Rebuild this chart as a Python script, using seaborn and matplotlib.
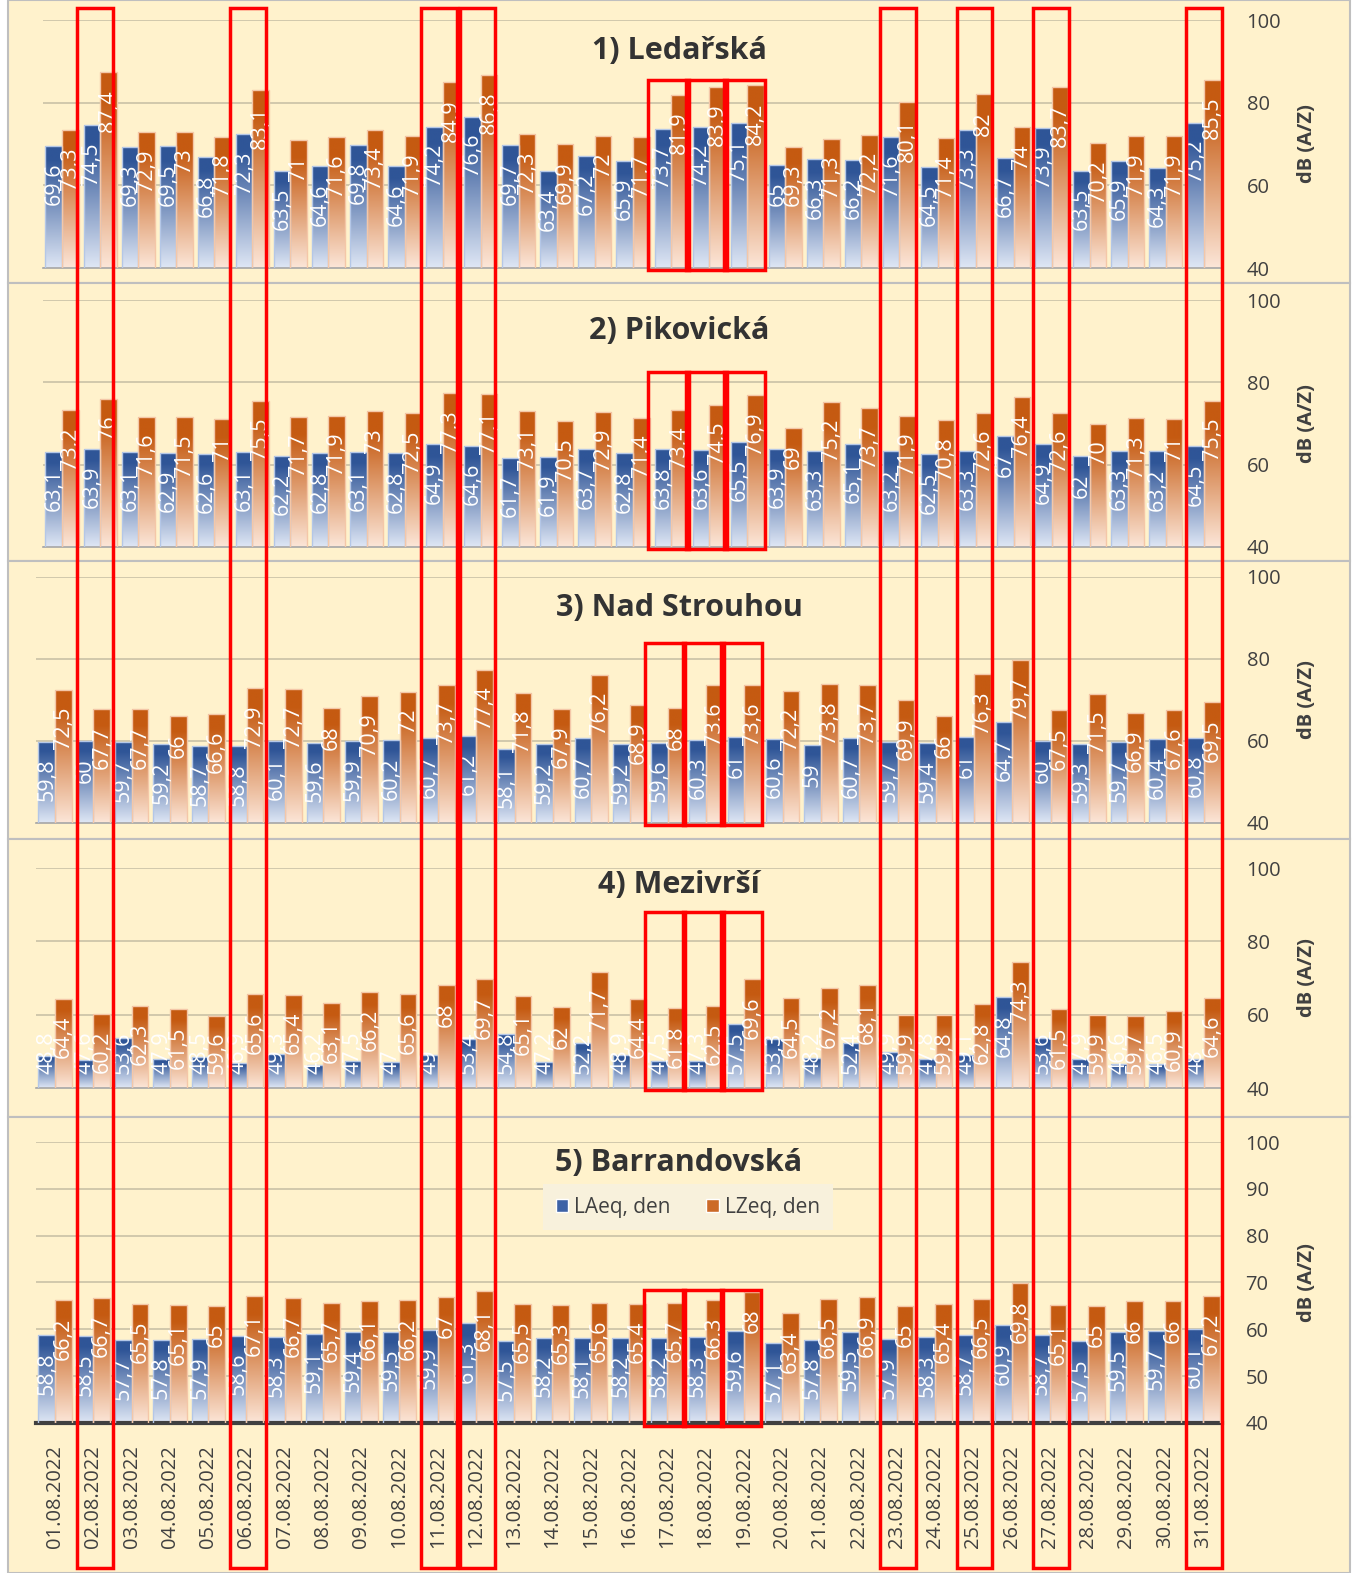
import numpy as np
import pandas as pd
import matplotlib
matplotlib.use("Agg")
import matplotlib.pyplot as plt
from matplotlib.colors import LinearSegmentedColormap
from matplotlib.patches import Rectangle, Patch
from matplotlib.transforms import offset_copy, blended_transform_factory
import seaborn as sns

# ---- data ----
dates = [f"{d:02d}.08.2022" for d in range(1, 32)]
series_names = ["LAeq, den", "LZeq, den"]

ledarska_laeq = [69.6, 74.5, 69.3, 69.5, 66.8, 72.3, 63.5, 64.6, 69.8, 64.6, 74.2, 76.6, 69.7, 63.4, 67.2, 65.9,
                 73.7, 74.2, 75.1, 65.0, 66.3, 66.2, 71.6, 64.5, 73.3, 66.7, 73.9, 63.5, 65.9, 64.3, 75.2]
ledarska_lzeq = [73.3, 87.4, 72.9, 73.0, 71.8, 83.1, 71.0, 71.6, 73.4, 71.9, 84.9, 86.8, 72.3, 69.9, 72.0, 71.7,
                 81.9, 83.9, 84.2, 69.3, 71.3, 72.2, 80.1, 71.4, 82.0, 74.0, 83.7, 70.2, 71.9, 71.9, 85.5]

pikovicka_laeq = [63.1, 63.9, 63.1, 62.9, 62.6, 63.1, 62.2, 62.8, 63.1, 62.8, 64.9, 64.6, 61.7, 61.9, 63.7, 62.8,
                  63.8, 63.6, 65.5, 63.9, 63.3, 65.1, 63.2, 62.5, 63.3, 67.0, 64.9, 62.0, 63.3, 63.2, 64.5]
pikovicka_lzeq = [73.2, 76.0, 71.6, 71.5, 71.0, 75.5, 71.7, 71.9, 73.0, 72.5, 77.3, 77.1, 73.1, 70.5, 72.9, 71.4,
                  73.4, 74.5, 76.9, 69.0, 75.2, 73.7, 71.9, 70.8, 72.6, 76.4, 72.6, 70.0, 71.3, 71.0, 75.5]

strouhou_laeq = [59.8, 60.0, 59.7, 59.2, 58.7, 58.8, 60.1, 59.6, 59.9, 60.2, 60.7, 61.2, 58.1, 59.2, 60.7, 59.2,
                 59.6, 60.3, 61.0, 60.6, 59.0, 60.7, 59.7, 59.4, 61.0, 64.7, 60.0, 59.3, 59.7, 60.4, 60.8]
strouhou_lzeq = [72.5, 67.7, 67.7, 66.0, 66.6, 72.9, 72.7, 68.0, 70.9, 72.0, 73.7, 77.4, 71.8, 67.9, 76.2, 68.9,
                 68.0, 73.6, 73.6, 72.2, 73.8, 73.7, 69.9, 66.0, 76.3, 79.7, 67.5, 71.5, 66.9, 67.6, 69.5]

mezivrsi_laeq = [48.8, 47.6, 53.6, 47.9, 48.5, 46.9, 49.3, 46.2, 47.5, 47.0, 49.0, 53.4, 54.8, 47.2, 52.2, 48.9,
                 47.5, 47.3, 57.5, 53.3, 48.2, 52.4, 49.9, 47.8, 49.1, 64.8, 53.6, 47.9, 46.6, 46.5, 48.0]
mezivrsi_lzeq = [64.4, 60.2, 62.3, 61.5, 59.6, 65.6, 65.4, 63.1, 66.2, 65.6, 68.0, 69.7, 65.1, 62.0, 71.7, 64.4,
                 61.8, 62.5, 69.6, 64.5, 67.2, 68.1, 59.9, 59.8, 62.8, 74.3, 61.5, 59.9, 59.7, 60.9, 64.6]

barrandov_laeq = [58.8, 58.5, 57.7, 57.8, 57.9, 58.6, 58.3, 59.1, 59.4, 59.5, 59.9, 61.3, 57.5, 58.2, 58.1, 58.2,
                  58.2, 58.3, 59.6, 57.1, 57.8, 59.5, 57.9, 58.3, 58.7, 60.9, 58.7, 57.5, 59.5, 59.7, 60.1]
barrandov_lzeq = [66.2, 66.7, 65.5, 65.1, 65.0, 67.1, 66.7, 65.7, 66.1, 66.2, 67.0, 68.1, 65.5, 65.3, 65.6, 65.4,
                  65.7, 66.3, 68.0, 63.4, 66.5, 66.9, 65.0, 65.4, 66.5, 69.8, 65.1, 65.0, 66.0, 66.0, 67.2]

titles = ["1) Ledařská", "2) Pikovická", "3) Nad Strouhou", "4) Mezivrší", "5) Barrandovská"]
# days framed in red across the whole figure, and per panel
marked_days = ["02.08.2022", "06.08.2022", "11.08.2022", "12.08.2022",
               "23.08.2022", "25.08.2022", "27.08.2022", "31.08.2022"]
boxed_days = ["17.08.2022", "18.08.2022", "19.08.2022"]

# ---- layout (pixels) ----
W, H = 1359, 1573
BG = "#FFF2CC"
TXT = "#404040"

panels = [
    dict(la=ledarska_laeq, lz=ledarska_lzeq, frame=(0, 283), plot=(43, 20, 1223, 268),
         ticks=[40, 60, 80, 100], title_y=50, box_top=0.758),
    dict(la=pikovicka_laeq, lz=pikovicka_lzeq, frame=(283, 561), plot=(43, 300, 1223, 547),
         ticks=[40, 60, 80, 100], title_y=330, box_top=0.709),
    dict(la=strouhou_laeq, lz=strouhou_lzeq, frame=(561, 839), plot=(36, 577, 1223, 823),
         ticks=[40, 60, 80, 100], title_y=607, box_top=0.73),
    dict(la=mezivrsi_laeq, lz=mezivrsi_lzeq, frame=(839, 1117), plot=(36, 868, 1223, 1088),
         ticks=[40, 60, 80, 100], title_y=884, box_top=0.80),
    dict(la=barrandov_laeq, lz=barrandov_lzeq, frame=(1117, 1573), plot=(36, 1142, 1222, 1423),
         ticks=[40, 50, 60, 70, 80, 90, 100], title_y=1162, box_top=0.473),
]

sns.set_style("white")
plt.rcParams["font.family"] = ["Open Sans", "DejaVu Sans"]

fig = plt.figure(figsize=(W / 100, H / 100), dpi=100)
fig.patch.set_facecolor("white")


def px_rect(l, t, r, b):
    return [l / W, 1 - b / H, (r - l) / W, (b - t) / H]


blue_cm = LinearSegmentedColormap.from_list("blue", [(0, "#DFE7F5"), (0.88, "#2F5597"), (1, "#2F5597")])
orange_cm = LinearSegmentedColormap.from_list("orange", [(0, "#FCE6D8"), (0.86, "#C55A11"), (1, "#C55A11")])
grad = np.linspace(0, 1, 256).reshape(-1, 1)

axes = []
labels = []
for i, p in enumerate(panels):
    # panel frame
    ft, fb = p["frame"]
    fig.add_artist(Rectangle((8 / W, 1 - fb / H), (1350 - 8) / W, (fb - ft) / H, transform=fig.transFigure,
                             facecolor=BG, edgecolor="#BFBFBF", lw=1.5, zorder=-5))
    ax = fig.add_axes(px_rect(*p["plot"]))
    ax.set_facecolor("none")
    axes.append(ax)

    df = pd.DataFrame({"date": dates * 2, "value": p["la"] + p["lz"],
                       "series": [series_names[0]] * 31 + [series_names[1]] * 31})
    sns.barplot(data=df, x="date", y="value", hue="series", palette=["#2F5597", "#C55A11"],
                width=0.87, errorbar=None, legend=False, ax=ax)

    ymin, ymax = p["ticks"][0], p["ticks"][-1]
    for cont, cm, edge in zip(ax.containers, [blue_cm, orange_cm], ["#B4C7E7", "#F4C7A8"]):
        for bar in cont:
            x0, w, v = bar.get_x(), bar.get_width(), bar.get_height()
            im = ax.imshow(grad, cmap=cm, origin="lower", extent=[x0, x0 + w, ymin, v],
                           aspect="auto", zorder=2, interpolation="bilinear")
            im.set_clip_path(bar)
            bar.set_facecolor("none")
            bar.set_edgecolor(edge)
            bar.set_linewidth(1.0)
            bar.set_zorder(3)
            t = ax.text(x0 + w / 2, v, f"{v:g}".replace(".", ","), rotation=90, ha="center", va="top",
                        color="white", fontsize=15.5,
                        transform=offset_copy(ax.transData, fig=fig, y=-17, units="dots"), zorder=4)
            labels.append((ax, t, ymin))

    ax.set_xlim(-0.5, 30.5)
    ax.set_ylim(ymin, ymax)
    ax.set_yticks(p["ticks"])
    ax.yaxis.tick_right()
    ax.tick_params(axis="y", length=0, pad=17, labelsize=14.5, labelcolor=TXT)
    ax.grid(axis="y", color="#C9C1A6", lw=1.2)
    ax.set_axisbelow(True)
    for s in ["top", "left", "right"]:
        ax.spines[s].set_visible(False)
    ax.set_xlabel("")
    ax.set_ylabel("")
    l, t_, r, b = p["plot"]
    ax.text((1307 - l) / (r - l), 0.5, "dB (A/Z)", rotation=90, ha="center", va="center",
            transform=ax.transAxes, fontsize=14.5, fontweight="bold", color=TXT)
    fig.text(679 / W, 1 - (p["title_y"] + 1) / H, titles[i], ha="center", va="center",
             fontsize=22, fontweight="bold", color="#333333")

    if i < 4:
        ax.spines["bottom"].set_color("#A6A6A6")
        ax.spines["bottom"].set_linewidth(1.2)
        ax.set_xticks(range(31))
        ax.set_xticklabels([])
        ax.tick_params(axis="x", length=0)
    else:
        ax.spines["bottom"].set_color("#404040")
        ax.spines["bottom"].set_linewidth(3)
        ax.set_xticks(range(31))
        ax.set_xticklabels(dates, rotation=90, va="top")
        ax.tick_params(axis="x", length=0, pad=16, labelsize=14.5, labelcolor=TXT)

    # red boxes around 17.-19.08
    tr = blended_transform_factory(ax.transData, ax.transAxes)
    for d in boxed_days:
        k = dates.index(d)
        ax.add_patch(Rectangle((k - 0.6, -0.01), 1.06, p["box_top"] + 0.01, transform=tr, fill=False,
                               edgecolor="#FF0000", lw=2.5, clip_on=False, zorder=10))

# legend in panel 5
ax5 = axes[-1]
handles = [Patch(facecolor="#3D62A6"), Patch(facecolor="#CC6A28")]
leg = ax5.legend(handles, series_names, loc="center", bbox_to_anchor=(688 / W, 1 - 1207 / H),
                 bbox_transform=fig.transFigure, ncol=2, frameon=True, fancybox=False,
                 facecolor="#F8F1DC", edgecolor="none", framealpha=1, fontsize=15,
                 handlelength=0.6, handleheight=0.6, handletextpad=0.3, columnspacing=1.7,
                 borderpad=0.6, borderaxespad=0)
for txt in leg.get_texts():
    txt.set_color(TXT)

# full-height red frames around marked days
trf = blended_transform_factory(ax5.transData, fig.transFigure)
for d in marked_days:
    k = dates.index(d)
    fig.add_artist(Rectangle((k - 0.43, 1 - 1568 / H), 0.93, (1568 - 8) / H, transform=trf, fill=False,
                             edgecolor="#FF0000", lw=2.5, zorder=10))

# short bars: label sits at the bottom of the bar instead of inside the end
fig.canvas.draw()
for ax, t, ymin in labels:
    bb = t.get_window_extent()
    base = ax.transData.transform((0, ymin))[1]
    if bb.y0 < base + 14:
        t.set_y(ymin)
        t.set_va("bottom")
        t.set_transform(offset_copy(ax.transData, fig=fig, y=14, units="dots"))

fig.savefig("out.png", dpi=100)
